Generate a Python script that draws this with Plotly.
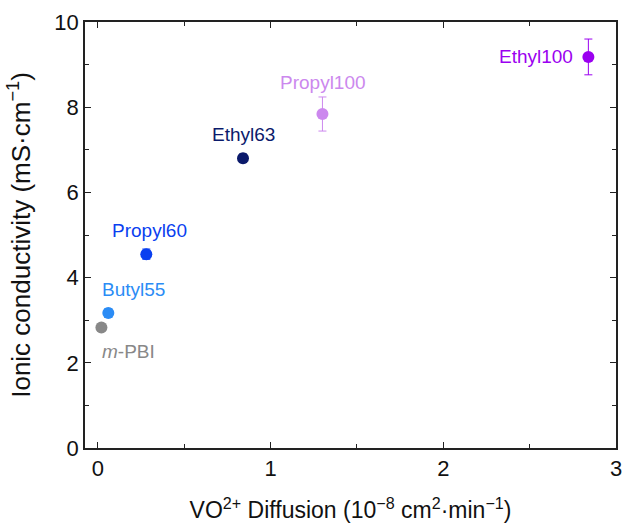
import plotly.graph_objects as go

names = ["m-PBI", "Butyl55", "Propyl60", "Ethyl63", "Propyl100", "Ethyl100"]
labels = ["<i>m</i>-PBI", "Butyl55", "Propyl60", "Ethyl63", "Propyl100", "Ethyl100"]
diffusion = [0.02, 0.06, 0.28, 0.84, 1.30, 2.84]
conductivity = [2.83, 3.17, 4.55, 6.80, 7.84, 9.18]
cond_err = [0.05, 0.10, 0.12, 0.10, 0.40, 0.42]
colors = ["#888888", "#2b8cf5", "#0a3ff0", "#0b1a6b", "#cc88ee", "#9b00f0"]
label_shift = [(27, -24), (25, 23), (3, 24), (0, 24), (1, 32), (-52, 0)]

fig = go.Figure()
for n, x, y, e, c in zip(names, diffusion, conductivity, cond_err, colors):
    fig.add_trace(go.Scatter(
        x=[x], y=[y], mode="markers", name=n,
        marker=dict(color=c, size=12),
        error_y=dict(type="data", array=[e], visible=True, color=c, thickness=1, width=4),
        showlegend=False))

for lab, x, y, c, (dx, dy) in zip(labels, diffusion, conductivity, colors, label_shift):
    fig.add_annotation(x=x, y=y, text=lab, showarrow=False, xshift=dx, yshift=dy,
                       font=dict(color=c, size=19))

axis_common = dict(showline=True, linecolor="#222", linewidth=1.5, mirror="ticks",
                   ticks="inside", ticklen=6, tickwidth=1.2, tickcolor="#222",
                   showgrid=False, zeroline=False,
                   tickfont=dict(size=22, color="#111"),
                   minor=dict(ticks="inside", ticklen=4, tickwidth=1.2, tickcolor="#222"))

fig.update_xaxes(range=[-0.075, 3.0], tickvals=[0, 1, 2, 3], minor_dtick=0.5,
                 title=dict(text="VO<sup>2+</sup> Diffusion (10<sup>−8</sup> cm<sup>2</sup>·min<sup>−1</sup>)",
                            font=dict(size=23, color="#111"), standoff=22), **axis_common)
fig.update_yaxes(range=[0, 10], tickvals=[0, 2, 4, 6, 8, 10], minor_dtick=1,
                 title=dict(text="Ionic conductivity (mS·cm<sup>−1</sup>)",
                            font=dict(size=26, color="#111"), standoff=16), **axis_common)

fig.update_layout(width=628, height=525, margin=dict(l=85, r=6, t=22, b=73),
                  plot_bgcolor="white", paper_bgcolor="white",
                  font=dict(family="Liberation Sans, Arial, sans-serif"))
fig.write_html("out.html")
